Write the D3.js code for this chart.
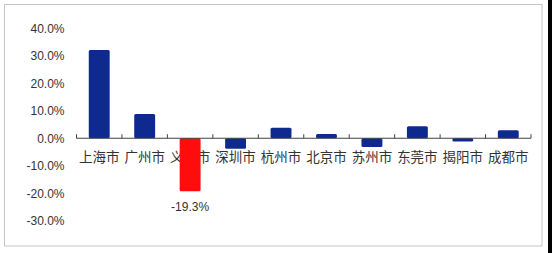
<!DOCTYPE html>
<html><head><meta charset="utf-8">
<script src="https://cdn.jsdelivr.net/npm/d3@7"></script>
<style>body{margin:0;background:#fff;overflow:hidden}svg{display:block}</style>
</head><body>
<script>
const categories = ["上海市","广州市","义乌市","深圳市","杭州市","北京市","苏州市","东莞市","揭阳市","成都市"];
const values = [32.1, 8.8, -19.3, -3.8, 3.8, 1.5, -3.2, 4.4, -1.2, 2.9];
const yTicks = [40, 30, 20, 10, 0, -10, -20, -30];
const highlight = "义乌市";
const labelled = ["义乌市"];

const W = 552, H = 253;
const svg = d3.select("body").append("svg").attr("width", W).attr("height", H);
svg.append("rect").attr("width", W).attr("height", H).attr("fill", "#fff");
svg.append("rect").attr("x", 548).attr("y", 0).attr("width", 4).attr("height", H).attr("fill", "#000");
svg.append("rect").attr("x", 4.5).attr("y", 4.5).attr("width", 537.5).attr("height", 241.5)
  .attr("fill", "none").attr("stroke", "#c4c4c4").attr("stroke-width", 1);

const x = d3.scaleBand().domain(categories).range([76.5, 531]).paddingInner(0.54).paddingOuter(0.27);
const y = d3.scaleLinear().domain([-30, 40]).range([220.7, 28.3]);

// y tick labels
svg.append("g").selectAll("text").data(yTicks).join("text")
  .attr("x", 64.5).attr("y", d => y(d)).attr("dy", "0.36em")
  .attr("text-anchor", "end")
  .attr("font-family", "Liberation Sans, Arial, sans-serif").attr("font-size", 12)
  .attr("fill", "#333").text(d => d.toFixed(1) + "%");

// category labels (drawn under bars)
svg.append("g").selectAll("text").data(categories).join("text")
  .attr("x", d => x(d) + x.bandwidth() / 2).attr("y", 157).attr("dy", "0.36em")
  .attr("text-anchor", "middle")
  .attr("font-family", "Noto Sans CJK SC, sans-serif").attr("font-size", 13.5)
  .attr("fill", "#333").text(d => d);

// bars
svg.append("g").selectAll("rect").data(categories).join("rect")
  .attr("x", (d) => x(d))
  .attr("y", (d, i) => y(Math.max(0, values[i])))
  .attr("width", x.bandwidth())
  .attr("height", (d, i) => Math.abs(y(values[i]) - y(0)))
  .attr("rx", 1.5)
  .attr("fill", d => d === highlight ? "#ff0d0d" : "#0f2a8e");

// zero axis
const step = x.step();
const ticksX = d3.range(categories.length + 1).map(i => 76.5 + i * (531 - 76.5) / categories.length);
svg.append("line").attr("x1", 76.5).attr("x2", 531).attr("y1", y(0)).attr("y2", y(0))
  .attr("stroke", "#404040").attr("stroke-width", 1.2);
svg.append("g").selectAll("line").data(ticksX).join("line")
  .attr("x1", d => d).attr("x2", d => d).attr("y1", y(0) - 4).attr("y2", y(0))
  .attr("stroke", "#404040").attr("stroke-width", 1);

// data label
svg.append("g").selectAll("text").data(labelled).join("text")
  .attr("x", d => x(d) + x.bandwidth() / 2)
  .attr("y", d => y(values[categories.indexOf(d)]) + 15.5).attr("dy", "0.36em")
  .attr("text-anchor", "middle")
  .attr("font-family", "Liberation Sans, Arial, sans-serif").attr("font-size", 12)
  .attr("fill", "#333").text(d => values[categories.indexOf(d)].toFixed(1) + "%");
</script>
</body></html>
